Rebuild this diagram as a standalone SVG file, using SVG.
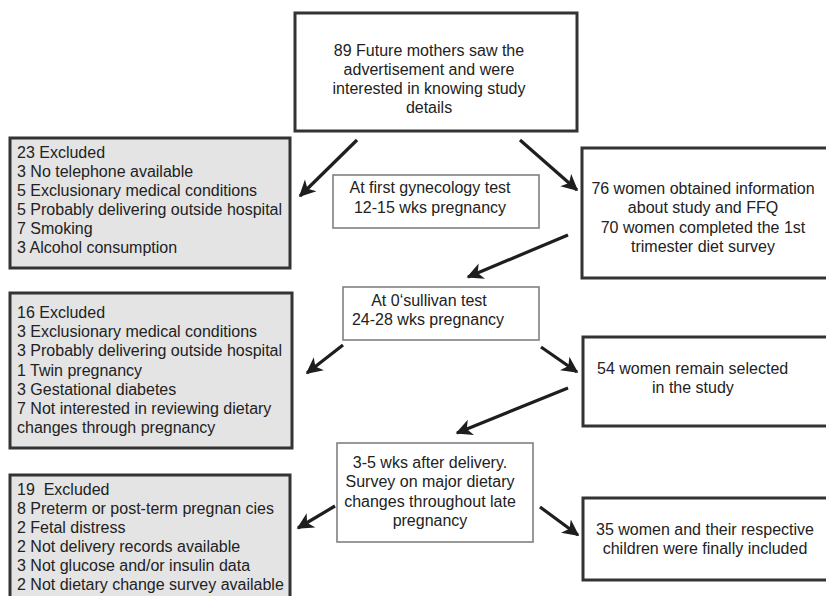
<svg xmlns="http://www.w3.org/2000/svg" width="826" height="596" viewBox="0 0 826 596">
<style>
text{font-family:"Liberation Sans",Arial,sans-serif;font-size:16px;fill:#222}
.c{text-anchor:middle}
.main{fill:#fff;stroke:#333;stroke-width:3}
.excl{fill:#e4e4e4;stroke:#333;stroke-width:3}
.step{fill:#fff;stroke:#808080;stroke-width:1.6}
.arr{stroke:#1e1e1e;stroke-width:3.2;fill:none;marker-end:url(#ah)}
</style>
<defs>
<marker id="ah" viewBox="0 0 12 12" refX="10" refY="6" markerWidth="18" markerHeight="18" markerUnits="userSpaceOnUse" orient="auto">
<path d="M0,0.5 L11,6 L0,11.5 L3,6 z" fill="#1e1e1e"/>
</marker>
</defs>
<rect width="826" height="596" fill="#fff"/>
<g id="n_top">
<rect class="main" x="295" y="13" width="282" height="118"/>
<text class="c" x="429" y="56">89 Future mothers saw the</text>
<text class="c" x="429" y="75">advertisement and were</text>
<text class="c" x="429" y="94">interested in knowing study</text>
<text class="c" x="429" y="113">details</text>
</g>
<g id="n_excl1">
<rect class="excl" x="10" y="138" width="280" height="130"/>
<text x="17" y="158">23 Excluded</text>
<text x="17" y="177">3 No telephone available</text>
<text x="17" y="196">5 Exclusionary medical conditions</text>
<text x="17" y="215">5 Probably delivering outside hospital</text>
<text x="17" y="234">7 Smoking</text>
<text x="17" y="253">3 Alcohol consumption</text>
</g>
<g id="n_gyn">
<rect class="step" x="333" y="175" width="206" height="53"/>
<text class="c" x="430" y="193">At first gynecology test</text>
<text class="c" x="430" y="213">12-15 wks pregnancy</text>
</g>
<g id="n_76">
<rect class="main" x="582" y="148" width="250" height="130"/>
<text class="c" x="703" y="194">76 women obtained information</text>
<text class="c" x="703" y="213">about study and FFQ</text>
<text class="c" x="703" y="233">70 women completed the 1st</text>
<text class="c" x="703" y="252">trimester diet survey</text>
</g>
<g id="n_osul">
<rect class="step" x="343" y="287" width="196" height="53"/>
<text class="c" x="429" y="306">At 0‘sullivan test</text>
<text class="c" x="428" y="325">24-28 wks pregnancy</text>
</g>
<g id="n_excl2">
<rect class="excl" x="10" y="293" width="282" height="155"/>
<text x="17" y="318">16 Excluded</text>
<text x="17" y="337">3 Exclusionary medical conditions</text>
<text x="17" y="356">3 Probably delivering outside hospital</text>
<text x="17" y="376">1 Twin pregnancy</text>
<text x="17" y="395">3 Gestational diabetes</text>
<text x="17" y="414">7 Not interested in reviewing dietary</text>
<text x="17" y="433">changes through pregnancy</text>
</g>
<g id="n_54">
<rect class="main" x="583" y="337" width="250" height="89"/>
<text x="597" y="374">54 women remain selected</text>
<text x="652" y="393">in the study</text>
</g>
<g id="n_post">
<rect class="step" x="337" y="443" width="196" height="99"/>
<text class="c" x="430" y="468">3-5 wks after delivery.</text>
<text class="c" x="430" y="487">Survey on major dietary</text>
<text class="c" x="430" y="507">changes throughout late</text>
<text class="c" x="430" y="526">pregnancy</text>
</g>
<g id="n_excl3">
<rect class="excl" x="10" y="475" width="280" height="130"/>
<text x="17" y="495" style="white-space:pre">19  Excluded</text>
<text x="17" y="514">8 Preterm or post-term pregnan cies</text>
<text x="17" y="533">2 Fetal distress</text>
<text x="17" y="552">2 Not delivery records available</text>
<text x="17" y="571">3 Not glucose and/or insulin data</text>
<text x="17" y="590">2 Not dietary change survey available</text>
</g>
<g id="n_35">
<rect class="main" x="583" y="498" width="250" height="82"/>
<text class="c" x="705" y="535">35 women and their respective</text>
<text class="c" x="705" y="554">children were finally included</text>
</g>
<g id="connectors">
<line class="arr" x1="357" y1="140" x2="300" y2="196"/>
<line class="arr" x1="520" y1="140" x2="577" y2="190"/>
<line class="arr" x1="568" y1="235" x2="468" y2="277"/>
<line class="arr" x1="343" y1="345" x2="307" y2="373"/>
<line class="arr" x1="541" y1="347" x2="577" y2="372"/>
<line class="arr" x1="568" y1="388" x2="457" y2="433"/>
<line class="arr" x1="335" y1="506" x2="298" y2="528"/>
<line class="arr" x1="540" y1="507" x2="578" y2="535"/>
</g>
</svg>
